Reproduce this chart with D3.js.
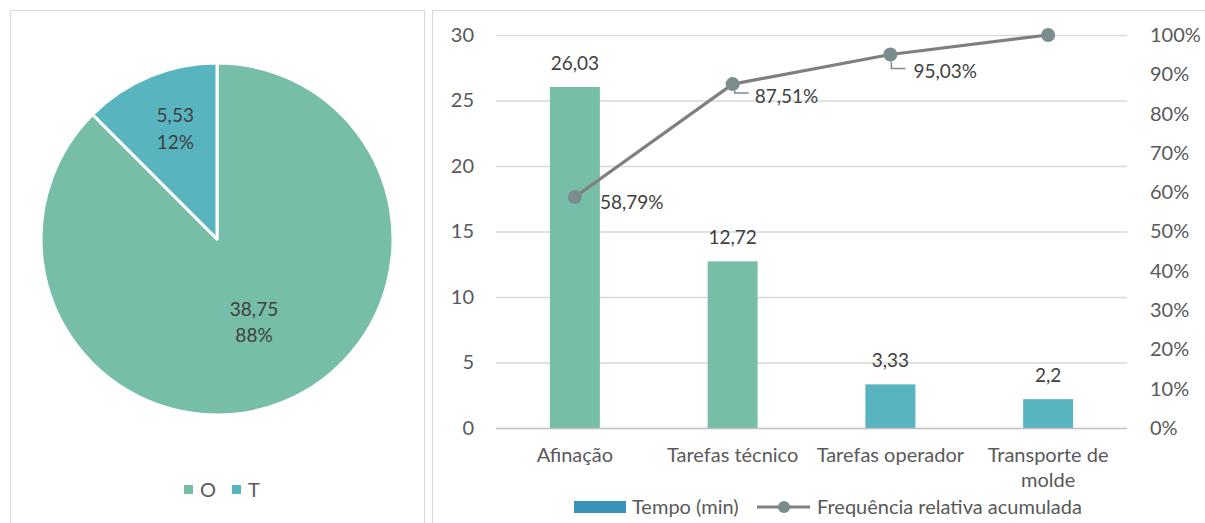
<!DOCTYPE html>
<html>
<head>
<meta charset="utf-8">
<script src="https://cdn.jsdelivr.net/npm/d3@7"></script>
<style>
  html, body { margin: 0; padding: 0; background: #fff; }
  svg { display: block; font-family: Lato, "Open Sans", sans-serif; }
</style>
</head>
<body>
<svg id="chart" width="1205" height="523"></svg>
<script>
// Pie: share of O vs T
const pieLabels = ["O", "T"];
const pieValues = [38.75, 5.53];
const piePercents = ["88%", "12%"];
const pieColors = ["#76BEA8", "#58B5C0"];

// Pareto: time per task and cumulative relative frequency
const categories = ["Afinação", "Tarefas técnico", "Tarefas operador", "Transporte de molde"];
const tempo = [26.03, 12.72, 3.33, 2.2];
const tempoLabels = ["26,03", "12,72", "3,33", "2,2"];
const barColors = ["#76BEA8", "#76BEA8", "#58B5C0", "#58B5C0"];
const cumFreq = [0.5879, 0.8751, 0.9503, 1.0];
const cumLabels = ["58,79%", "87,51%", "95,03%", null];
const leftTicks = [0, 5, 10, 15, 20, 25, 30];
const rightTicks = [0, 0.1, 0.2, 0.3, 0.4, 0.5, 0.6, 0.7, 0.8, 0.9, 1.0];

const svg = d3.select("#chart");
const textDark = "#404040";
const textAxis = "#595959";
const fs = 19;   // data labels
const fsAx = 20; // axis, category and legend text

// panel frames
svg.append("rect").attr("x", 10.5).attr("y", 10.5).attr("width", 414).attr("height", 530)
  .attr("fill", "none").attr("stroke", "#D9D9D9");
svg.append("rect").attr("x", 432.5).attr("y", 10.5).attr("width", 800).attr("height", 530)
  .attr("fill", "none").attr("stroke", "#D9D9D9");

// ---------- pie ----------
const cx = 217, cy = 239, r = 176;
const pie = d3.pie().sort(null).value(d => d)(pieValues);
const arc = d3.arc().innerRadius(0).outerRadius(r);
const pg = svg.append("g").attr("transform", `translate(${cx},${cy})`);
pg.selectAll("path").data(pie).join("path")
  .attr("d", arc)
  .attr("fill", (d, i) => pieColors[i])
  .attr("stroke", "#fff").attr("stroke-width", 3).attr("stroke-linejoin", "round");

// label anchors inside each slice (radius fraction, baseline offsets of the two lines)
const pieLabelFrac = [0.55, 0.62];
const pieLineOffsets = [[-12, 14], [-16, 11]];
pie.forEach((d, i) => {
  const rr = r * pieLabelFrac[i];
  const [x, y] = d3.arc().innerRadius(rr).outerRadius(rr).centroid(d);
  const t = pg.append("text").attr("text-anchor", "middle").attr("fill", textDark)
    .attr("font-size", fs);
  t.append("tspan").attr("x", x).attr("y", y + pieLineOffsets[i][0]).text(d3.format(".2f")(pieValues[i]).replace(".", ","));
  t.append("tspan").attr("x", x).attr("y", y + pieLineOffsets[i][1]).text(piePercents[i]);
});

// pie legend
const pl = svg.append("g").attr("transform", "translate(184,490)");
const legX = [0, 48];
pieLabels.forEach((lab, i) => {
  pl.append("rect").attr("x", legX[i]).attr("y", -5).attr("width", 9).attr("height", 9).attr("fill", pieColors[i]);
  pl.append("text").attr("x", legX[i] + 16).attr("y", 7).attr("font-size", 20).attr("fill", textAxis).text(lab);
});

// ---------- pareto ----------
const x0 = 496, x1 = 1127, yTop = 35, yBot = 428;
const x = d3.scaleBand().domain(categories).range([x0, x1]).paddingInner(0).paddingOuter(0);
const yL = d3.scaleLinear().domain([0, 30]).range([yBot, yTop]);
const yR = d3.scaleLinear().domain([0, 1]).range([yBot, yTop]);

const g = svg.append("g");

// gridlines
g.selectAll("line.grid").data(leftTicks.filter(t => t > 0)).join("line")
  .attr("x1", x0).attr("x2", x1)
  .attr("y1", d => yL(d) + 0.5).attr("y2", d => yL(d) + 0.5)
  .attr("stroke", "#D9D9D9").attr("stroke-width", 1.3);

// left axis
const axL = d3.axisLeft(yL).tickValues(leftTicks).tickSize(0).tickPadding(0).tickFormat(d3.format("d"));
const gL = g.append("g").attr("transform", "translate(474,0)").call(axL);
gL.select(".domain").remove();
gL.selectAll("text").attr("font-size", fsAx).attr("fill", textAxis).attr("font-family", "Lato, sans-serif");

// right axis
const axR = d3.axisRight(yR).tickValues(rightTicks).tickSize(0).tickPadding(0).tickFormat(d3.format(".0%"));
const gR = g.append("g").attr("transform", "translate(1150,0)").call(axR);
gR.select(".domain").remove();
gR.selectAll("text").attr("font-size", fsAx).attr("fill", textAxis).attr("font-family", "Lato, sans-serif");

// bars
const barW = 50;
g.selectAll("rect.bar").data(tempo).join("rect")
  .attr("x", (d, i) => x(categories[i]) + x.bandwidth() / 2 - barW / 2)
  .attr("y", d => yL(d))
  .attr("width", barW)
  .attr("height", d => yL(0) - yL(d))
  .attr("fill", (d, i) => barColors[i]);

// base axis line
g.append("line").attr("x1", x0).attr("x2", x1).attr("y1", yBot + 0.5).attr("y2", yBot + 0.5)
  .attr("stroke", "#BFBFBF").attr("stroke-width", 1.3);

// bar value labels
g.selectAll("text.bv").data(tempo).join("text")
  .attr("x", (d, i) => x(categories[i]) + x.bandwidth() / 2)
  .attr("y", d => yL(d) - 17)
  .attr("text-anchor", "middle").attr("font-size", fs).attr("fill", textDark)
  .text((d, i) => tempoLabels[i]);

// category labels
const catLines = [["Afinação"], ["Tarefas técnico"], ["Tarefas operador"], ["Transporte de", "molde"]];
categories.forEach((c, i) => {
  const t = g.append("text").attr("text-anchor", "middle").attr("font-size", fsAx).attr("fill", textAxis);
  catLines[i].forEach((ln, j) => {
    t.append("tspan").attr("x", x(c) + x.bandwidth() / 2).attr("y", 462 + j * 25).text(ln);
  });
});

// cumulative line
const cx2 = (d, i) => x(categories[i]) + x.bandwidth() / 2;
const line = d3.line().x((d, i) => cx2(d, i)).y(d => yR(d));
g.append("path").datum(cumFreq).attr("d", line)
  .attr("fill", "none").attr("stroke", "#7F7F7F").attr("stroke-width", 3.2).attr("stroke-linejoin", "round");

// leader lines for two of the labels
const leaders = [null, [[2, 7], [2, 9], [16, 9]], [[1, 7], [1, 14], [15, 14]], null];
leaders.forEach((pts, i) => {
  if (!pts) return;
  const px = cx2(null, i), py = yR(cumFreq[i]);
  g.append("path").attr("d", d3.line()(pts.map(p => [px + p[0], py + p[1]])))
    .attr("fill", "none").attr("stroke", "#7A8C8E").attr("stroke-width", 1.5);
});

g.selectAll("circle.pt").data(cumFreq).join("circle")
  .attr("cx", (d, i) => cx2(d, i)).attr("cy", d => yR(d)).attr("r", 7)
  .attr("fill", "#7A8C8E");

// cumulative labels
const cumOffsets = [[25, 12], [22, 19], [23, 23]];
cumLabels.forEach((lab, i) => {
  if (!lab) return;
  g.append("text").attr("x", cx2(null, i) + cumOffsets[i][0]).attr("y", yR(cumFreq[i]) + cumOffsets[i][1])
    .attr("font-size", fs).attr("fill", textDark).text(lab);
});

// pareto legend
const lg = svg.append("g").attr("transform", "translate(0,507)");
lg.append("rect").attr("x", 574).attr("y", -6).attr("width", 52).attr("height", 12).attr("fill", "#3A93B8");
lg.append("text").attr("x", 632).attr("y", 7).attr("font-size", fsAx).attr("fill", textAxis).text("Tempo (min)");
lg.append("line").attr("x1", 757).attr("x2", 810).attr("y1", 0).attr("y2", 0)
  .attr("stroke", "#7F7F7F").attr("stroke-width", 3.2);
lg.append("circle").attr("cx", 784).attr("cy", 0).attr("r", 6).attr("fill", "#7A8C8E");
lg.append("text").attr("x", 817).attr("y", 7).attr("font-size", fsAx).attr("fill", textAxis).text("Frequência relativa acumulada");
</script>
</body>
</html>
